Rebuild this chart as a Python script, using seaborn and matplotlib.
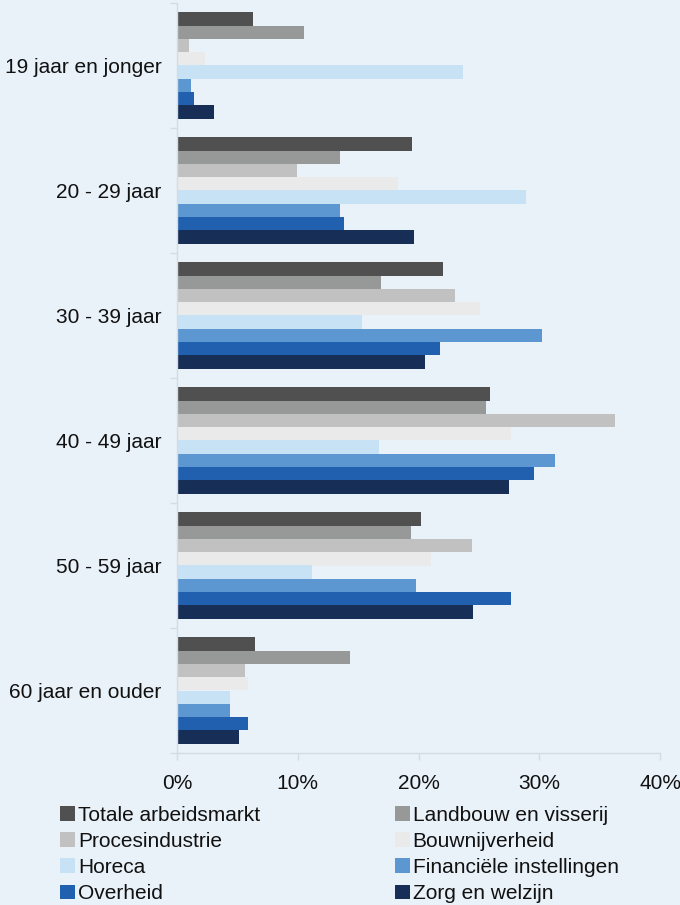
import matplotlib
matplotlib.use("Agg")
import matplotlib.pyplot as plt
import seaborn as sns
import pandas as pd
import numpy as np
from matplotlib.patches import Patch
from matplotlib.ticker import PercentFormatter, FixedLocator

age_groups = ["19 jaar en jonger", "20 - 29 jaar", "30 - 39 jaar",
              "40 - 49 jaar", "50 - 59 jaar", "60 jaar en ouder"]
sectors = ["Totale arbeidsmarkt", "Landbouw en visserij", "Procesindustrie",
           "Bouwnijverheid", "Horeca", "Financiële instellingen",
           "Overheid", "Zorg en welzijn"]

totale = [6.3, 19.5, 22.0, 25.9, 20.2, 6.5]
landbouw = [10.5, 13.5, 16.9, 25.6, 19.4, 14.3]
proces = [1.0, 9.9, 23.0, 36.3, 24.4, 5.6]
bouw = [2.3, 18.3, 25.1, 27.7, 21.0, 5.9]
horeca = [23.7, 28.9, 15.3, 16.7, 11.2, 4.4]
financ = [1.2, 13.5, 30.2, 31.3, 19.8, 4.4]
overheid = [1.4, 13.8, 21.8, 29.6, 27.7, 5.9]
zorg = [3.1, 19.6, 20.5, 27.5, 24.5, 5.1]

colors = ["#505050", "#979898", "#C1C1C1", "#EAEAEA",
          "#C7E2F4", "#5C97D1", "#2160AF", "#172E57"]

series = [totale, landbouw, proces, bouw, horeca, financ, overheid, zorg]
rows = []
for s, vals in zip(sectors, series):
    for g, v in zip(age_groups, vals):
        rows.append({"Leeftijd": g, "Sector": s, "Aandeel": v})
df = pd.DataFrame(rows)

bg = "#E9F1F9"
sns.set_theme(style="white")
plt.rcParams["font.family"] = ["Liberation Sans", "DejaVu Sans"]

fig = plt.figure(figsize=(6.8, 9.05), dpi=100, facecolor=bg)
ax = fig.add_axes([177/680, 1 - 753/905, (660 - 177)/680, 750/905])
ax.set_facecolor(bg)

sns.barplot(data=df, y="Leeftijd", x="Aandeel", hue="Sector",
            order=age_groups, hue_order=sectors, palette=colors,
            orient="h", width=0.85, saturation=1, ax=ax, legend=False,
            edgecolor="none", linewidth=0)

ax.set_xlim(0, 40)
ax.set_ylim(len(age_groups) - 0.5, -0.5)
ax.set_xticks([0, 10, 20, 30, 40])
ax.xaxis.set_major_formatter(PercentFormatter(decimals=0))
ax.set_xlabel("")
ax.set_ylabel("")
for sp in ["top", "right"]:
    ax.spines[sp].set_visible(False)
for sp in ["left", "bottom"]:
    ax.spines[sp].set_color("#D3DBE3")
    ax.spines[sp].set_linewidth(1.0)

ax.tick_params(axis="y", which="major", length=0, pad=11, labelsize=15, labelcolor="#111111")
ax.yaxis.set_minor_locator(FixedLocator(np.arange(-0.5, len(age_groups), 1)))
ax.tick_params(axis="y", which="minor", length=5, color="#D3DBE3", width=1, left=True)
ax.tick_params(axis="x", which="major", length=5, color="#D3DBE3", width=1,
               direction="out", pad=10, labelsize=15, labelcolor="#111111", bottom=True)

handles = [Patch(facecolor=c, edgecolor="none") for c in colors]
order = [0, 2, 4, 6, 1, 3, 5, 7]
fig.legend([handles[i] for i in order], [sectors[i] for i in order],
           ncol=2, loc="upper left", bbox_to_anchor=(60/680, 1 - 806/905),
           frameon=False, fontsize=15, handlelength=0.72, handleheight=0.72,
           handletextpad=0.15, columnspacing=6.45, labelspacing=0.34,
           borderpad=0, borderaxespad=0, labelcolor="#111111")

fig.savefig("out.png", dpi=100, facecolor=bg)
